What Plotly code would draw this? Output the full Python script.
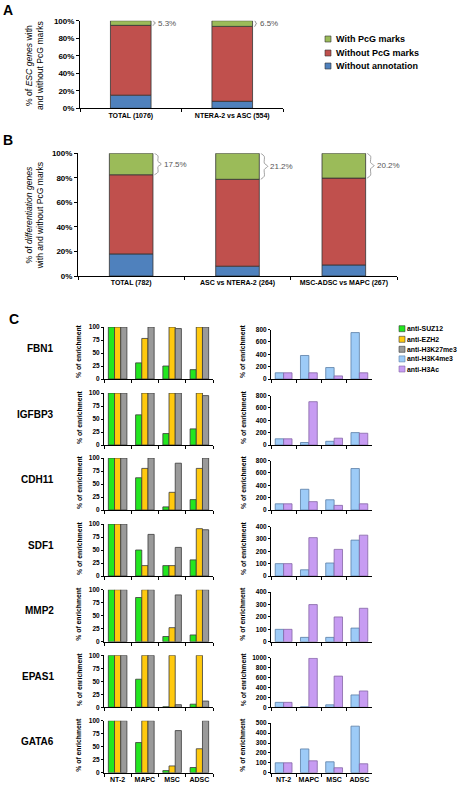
import plotly.graph_objects as go

W, H = 468, 789
FONT = "Liberation Sans, Arial, Helvetica, sans-serif"


def px(x):
    return x / W


def py(y):
    return 1 - y / H


# ---------------- Data: panel A ----------------
a_categories = ["TOTAL (1076)", "NTERA-2 vs ASC (554)"]
a_without_annotation = [15.0, 8.0]
a_without_pcg = [79.7, 85.5]
a_with_pcg = [5.3, 6.5]

# ---------------- Data: panel B ----------------
b_categories = ["TOTAL (782)", "ASC vs NTERA-2 (264)", "MSC-ADSC vs MAPC (267)"]
b_without_annotation = [18.0, 8.0, 9.0]
b_without_pcg = [64.5, 70.8, 70.8]
b_with_pcg = [17.5, 21.2, 20.2]

ab_series = ["Without annotation", "Without PcG marks", "With PcG marks"]
ab_colors = ["#4f81bd", "#c0504d", "#9bbb59"]
ab_legend_order = ["With PcG marks", "Without PcG marks", "Without annotation"]
ab_ticks = [0, 20, 40, 60, 80, 100]

# ---------------- Data: panel C ----------------
cells = ["NT-2", "MAPC", "MSC", "ADSC"]
genes = ["FBN1", "IGFBP3", "CDH11", "SDF1", "MMP2", "EPAS1", "GATA6"]

suz12 = [
    [100, 31, 25, 18],
    [100, 58, 22, 31],
    [100, 62, 6, 20],
    [100, 50, 20, 31],
    [100, 85, 10, 13],
    [100, 54, 1, 6],
    [100, 58, 4, 10],
]
ezh2 = [
    [100, 78, 100, 100],
    [100, 100, 100, 100],
    [100, 80, 34, 80],
    [100, 20, 20, 91],
    [100, 100, 27, 100],
    [100, 100, 100, 100],
    [100, 100, 13, 46],
]
h3k27me3 = [
    [100, 100, 97, 100],
    [100, 100, 100, 95],
    [100, 100, 90, 100],
    [100, 80, 55, 89],
    [100, 100, 90, 100],
    [100, 100, 5, 12],
    [100, 100, 81, 100],
]
h3k4me3 = [
    [100, 380, 185, 750],
    [100, 40, 60, 200],
    [100, 335, 165, 670],
    [100, 50, 105, 290],
    [100, 35, 35, 110],
    [100, 10, 50, 250],
    [100, 240, 110, 470],
]
h3ac = [
    [100, 100, 50, 100],
    [100, 700, 110, 190],
    [100, 135, 75, 100],
    [100, 310, 215, 330],
    [100, 300, 200, 270],
    [100, 990, 630, 330],
    [100, 120, 50, 90],
]
right_axis_max = [800, 800, 800, 400, 400, 1000, 500]
right_axis_step = [200, 200, 200, 100, 100, 200, 100]
left_axis_ticks = [0, 25, 50, 75, 100]

c_series_left = ["anti-SUZ12", "anti-EZH2", "anti-H3K27me3"]
c_series_right = ["anti-H3K4me3", "anti-H3Ac"]
c_colors = {
    "anti-SUZ12": "#22e61f",
    "anti-EZH2": "#ffc90e",
    "anti-H3K27me3": "#9a9a9a",
    "anti-H3K4me3": "#9dcbf7",
    "anti-H3Ac": "#c79cf2",
}
c_line_colors = {
    "anti-SUZ12": "#3a3a3a",
    "anti-EZH2": "#3a3a3a",
    "anti-H3K27me3": "#3a3a3a",
    "anti-H3K4me3": "#5a7ea6",
    "anti-H3Ac": "#8466a6",
}

# ---------------- Layout geometry (pixels) ----------------
A_X = (80, 283)
A_Y = (20.7, 108.3)
B_X = (78, 397)
B_Y = (153.3, 276)
C_LEFT_X = (104, 213)
C_RIGHT_X = (271, 372)
row_bottoms = [379, 445, 510, 576, 641.7, 707.3, 772.7]
LEFT_H = 52
RIGHT_H = 49.5

fig = go.Figure()
layout = dict(
    template="none",
    width=W,
    height=H,
    margin=dict(l=0, r=0, t=0, b=0, pad=0),
    paper_bgcolor="white",
    plot_bgcolor="white",
    barmode="overlay",
    showlegend=False,
    font=dict(family=FONT, color="black"),
)
annotations = []
shapes = []


def stacked_panel(axis_n, cats, series_vals, xpix, ypix, bar_w):
    xa = "x" if axis_n == 1 else f"x{axis_n}"
    ya = "y" if axis_n == 1 else f"y{axis_n}"
    n = len(cats)
    xs = list(range(n))
    base = [0.0] * n
    for name, vals, col in zip(ab_series, series_vals, ab_colors):
        fig.add_trace(go.Bar(
            x=xs, y=vals, base=list(base), width=bar_w, offset=-bar_w / 2,
            marker=dict(color=col, line=dict(color="#333333", width=0.8)),
            name=name, xaxis=xa, yaxis=ya, hoverinfo="skip",
        ))
        base = [b + v for b, v in zip(base, vals)]
    key = "xaxis" if axis_n == 1 else f"xaxis{axis_n}"
    ykey = "yaxis" if axis_n == 1 else f"yaxis{axis_n}"
    layout[key] = dict(
        domain=[px(xpix[0]), px(xpix[1])], anchor=ya, range=[-0.5, n - 0.5],
        tickvals=xs, ticktext=cats, ticks="", showline=True, linecolor="black",
        linewidth=1, showgrid=False, zeroline=False, fixedrange=True, tickangle=0,
        automargin=False, tickfont=dict(size=7, weight="bold"),
        minor=dict(tickvals=[i - 0.5 for i in range(n + 1)], ticks="outside",
                   ticklen=3, tickcolor="black", tickwidth=1, showgrid=False),
    )
    layout[ykey] = dict(
        domain=[py(ypix[1]), py(ypix[0])], anchor=xa, range=[0, 100],
        tickvals=ab_ticks, ticktext=[f"{t}%" for t in ab_ticks], ticks="outside",
        ticklen=3, tickcolor="black", showline=True, linecolor="black", linewidth=1,
        showgrid=False, zeroline=False, fixedrange=True, automargin=False,
        tickfont=dict(size=8, weight="bold"),
    )
    # braces and percentages for "With PcG marks"
    unit = n / (xpix[1] - xpix[0])  # data units per pixel
    brace_w = 3 if axis_n == 1 else 7
    top_vals = series_vals[2]
    for i, g in enumerate(top_vals):
        y1 = base[i]
        y0 = base[i] - g
        ym = (y0 + y1) / 2
        r = (y1 - y0) * 0.12
        x0 = i + bar_w / 2 + 1.5 * unit
        x1 = x0 + brace_w / 2 * unit
        x2 = x0 + brace_w * unit
        fig.add_trace(go.Scatter(
            x=[x0, x1, x1, x2, x1, x1, x0],
            y=[y1, y1 - r, ym + r, ym, ym - r, y0 + r, y0],
            mode="lines", line=dict(color="#8c8c8c", width=0.8, shape="spline", smoothing=0.8),
            xaxis=xa, yaxis=ya, hoverinfo="skip", showlegend=False,
        ))
        annotations.append(dict(
            x=x2 + 0.5 * unit, y=ym, xref=xa, yref=ya,
            text=f"{g}%", showarrow=False, xanchor="left", yanchor="middle",
            font=dict(size=8, color="#555555"),
        ))


stacked_panel(1, a_categories, [a_without_annotation, a_without_pcg, a_with_pcg],
              A_X, A_Y, 0.4)
stacked_panel(2, b_categories, [b_without_annotation, b_without_pcg, b_with_pcg],
              B_X, B_Y, 0.41)

# y-axis titles of A and B
annotations.append(dict(
    x=px(34), y=py((20 + 112) / 2), xref="paper", yref="paper",
    text="% of <i>ESC genes</i> with<br>and without PcG marks", textangle=-90,
    showarrow=False, font=dict(size=8.6), xanchor="center", yanchor="middle",
))
annotations.append(dict(
    x=px(34), y=py((160.7 + 270) / 2), xref="paper", yref="paper",
    text="% of <i>differentiation genes</i><br>with and without PcG marks", textangle=-90,
    showarrow=False, font=dict(size=8.6), xanchor="center", yanchor="middle",
))

# legend of A (manual, small swatches)
leg_a_rows = [39, 53, 66]
for name, yy in zip(ab_legend_order, leg_a_rows):
    col = ab_colors[ab_series.index(name)]
    shapes.append(dict(type="rect", xref="paper", yref="paper",
                       x0=px(325), x1=px(331), y0=py(yy + 3), y1=py(yy - 3),
                       fillcolor=col, line=dict(color="#333333", width=0.6)))
    annotations.append(dict(x=px(334), y=py(yy), xref="paper", yref="paper",
                            text=name, showarrow=False, xanchor="left",
                            yanchor="middle", font=dict(size=9, weight="bold")))

# ---------------- Panel C ----------------
axis_n = 3
for r, gene in enumerate(genes):
    bottom = row_bottoms[r]
    # left chart
    xa, ya = f"x{axis_n}", f"y{axis_n}"
    left_vals = [suz12[r], ezh2[r], h3k27me3[r]]
    bw = 0.227
    for k, (name, vals) in enumerate(zip(c_series_left, left_vals)):
        fig.add_trace(go.Bar(
            x=cells, y=vals, width=bw, offset=-1.5 * bw + k * bw,
            marker=dict(color=c_colors[name], line=dict(color=c_line_colors[name], width=0.8)),
            name=name, xaxis=xa, yaxis=ya, hoverinfo="skip",
        ))
    last = r == len(genes) - 1
    layout[f"xaxis{axis_n}"] = dict(
        domain=[px(C_LEFT_X[0]), px(C_LEFT_X[1])], anchor=ya, type="category",
        categoryorder="array", categoryarray=cells, range=[-0.5, 3.5],
        tickson="boundaries", ticks="outside", ticklen=3, tickcolor="black",
        showline=True, linecolor="black", linewidth=1, showgrid=False, tickangle=0,
        automargin=False, showticklabels=last, tickfont=dict(size=7, weight="bold"),
        fixedrange=True,
    )
    layout[f"yaxis{axis_n}"] = dict(
        domain=[py(bottom), py(bottom - LEFT_H)], anchor=xa, range=[0, 100],
        tickvals=left_axis_ticks, ticks="outside", ticklen=2, tickcolor="black",
        showline=True, linecolor="black", linewidth=1, showgrid=False,
        zeroline=False, automargin=False, tickfont=dict(size=6.5, weight="bold"),
        fixedrange=True,
    )
    annotations.append(dict(
        x=px(79), y=py(bottom - 28), xref="paper", yref="paper",
        text="% of enrichment", textangle=-90, showarrow=False,
        font=dict(size=6.8, weight="bold"), xanchor="center", yanchor="middle",
    ))
    axis_n += 1

    # right chart
    xa, ya = f"x{axis_n}", f"y{axis_n}"
    right_vals = [h3k4me3[r], h3ac[r]]
    bw2 = 0.333
    for k, (name, vals) in enumerate(zip(c_series_right, right_vals)):
        fig.add_trace(go.Bar(
            x=cells, y=vals, width=bw2, offset=-bw2 + k * bw2,
            marker=dict(color=c_colors[name], line=dict(color=c_line_colors[name], width=0.8)),
            name=name, xaxis=xa, yaxis=ya, hoverinfo="skip",
        ))
    ymax = right_axis_max[r]
    step = right_axis_step[r]
    layout[f"xaxis{axis_n}"] = dict(
        domain=[px(C_RIGHT_X[0]), px(C_RIGHT_X[1])], anchor=ya, type="category",
        categoryorder="array", categoryarray=cells, range=[-0.5, 3.5],
        tickson="boundaries", ticks="outside", ticklen=3, tickcolor="black",
        showline=True, linecolor="black", linewidth=1, showgrid=False, tickangle=0,
        automargin=False, showticklabels=last, tickfont=dict(size=7, weight="bold"),
        fixedrange=True,
    )
    layout[f"yaxis{axis_n}"] = dict(
        domain=[py(bottom), py(bottom - RIGHT_H)], anchor=xa, range=[0, ymax],
        tickvals=list(range(0, ymax + 1, step)), ticks="outside", ticklen=2,
        tickcolor="black", showline=True, linecolor="black", linewidth=1,
        showgrid=False, zeroline=False, automargin=False,
        tickfont=dict(size=6.5, weight="bold"), fixedrange=True,
    )
    annotations.append(dict(
        x=px(243), y=py(bottom - 28), xref="paper", yref="paper",
        text="% of enrichment", textangle=-90, showarrow=False,
        font=dict(size=6.8, weight="bold"), xanchor="center", yanchor="middle",
    ))
    axis_n += 1

    # gene name
    annotations.append(dict(
        x=px(56), y=py(bottom - 31), xref="paper", yref="paper", text=gene,
        showarrow=False, xanchor="right", yanchor="middle",
        font=dict(size=10, weight="bold"),
    ))

# legend of C (manual, small swatches)
leg_c_rows = [328.7, 339.3, 349.3, 358.9, 369]
for name, yy in zip(c_series_left + c_series_right, leg_c_rows):
    shapes.append(dict(type="rect", xref="paper", yref="paper",
                       x0=px(399), x1=px(405), y0=py(yy + 3), y1=py(yy - 3),
                       fillcolor=c_colors[name], line=dict(color=c_line_colors[name], width=0.6)))
    annotations.append(dict(x=px(404.5), y=py(yy), xref="paper", yref="paper",
                            text=name, showarrow=False, xanchor="left",
                            yanchor="middle", font=dict(size=6.9, weight="bold")))

# panel letters
for letter, (lx, ly) in zip(["A", "B", "C"], [(8, 10), (8, 140), (14, 319)]):
    annotations.append(dict(x=px(lx), y=py(ly), xref="paper", yref="paper",
                            text=letter, showarrow=False, xanchor="center",
                            yanchor="middle", font=dict(size=14, weight="bold")))

layout["annotations"] = annotations
layout["shapes"] = shapes
fig.update_layout(**layout)
fig.write_html(
    "out.html",
    config={"displayModeBar": False, "staticPlot": True},
    post_script="document.body.style.margin='0px';document.body.style.overflow='hidden';",
)
